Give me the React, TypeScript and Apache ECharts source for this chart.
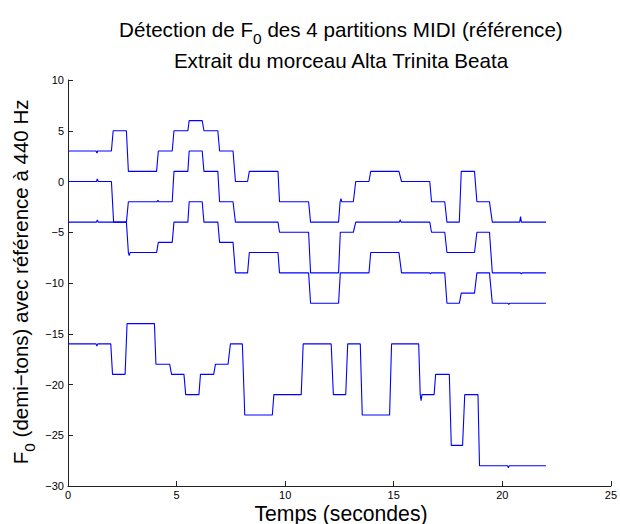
import React, { useEffect, useRef } from "react";
import * as echarts from "echarts";

// Each note: [start time (s), end time (s), pitch (semitones re 440 Hz)]
const sopranoNotes: number[][] = [
  [0, 2.0, 3], [2.08, 2.69, 5], [2.78, 4.08, 1], [4.16, 4.8, 3], [4.88, 5.52, 5],
  [5.58, 6.18, 6], [6.26, 6.9, 5], [6.98, 7.6, 3], [7.71, 8.27, 0], [8.35, 9.67, 1],
  [9.74, 11.08, -2], [11.17, 12.46, -4], [12.54, 13.14, -2], [13.25, 13.86, 0],
  [13.94, 15.24, 1], [15.36, 16.66, 0], [16.74, 17.35, -2], [17.45, 18.02, -4],
  [18.11, 18.72, 1], [18.83, 19.41, -2], [19.54, 22.01, -4],
];
const altoNotes: number[][] = [
  [0, 2.0, 0], [2.1, 2.69, -4], [2.78, 4.8, -2], [4.88, 5.52, 1], [5.58, 6.18, 3],
  [6.26, 6.9, 1], [6.98, 7.6, -2], [7.71, 9.67, -4], [9.74, 11.08, -5],
  [11.17, 12.46, -9], [12.54, 13.14, -5], [13.25, 16.66, -4], [16.74, 17.35, -5],
  [17.45, 18.72, -7], [18.83, 19.41, -5], [19.54, 22.01, -9],
];
const tenorNotes: number[][] = [
  [0, 2.69, -4], [2.78, 4.08, -7], [4.16, 4.8, -6], [4.88, 5.52, -4], [5.58, 6.18, -2],
  [6.26, 6.9, -4], [6.98, 7.6, -6], [7.71, 8.27, -9], [8.35, 9.67, -7],
  [9.74, 11.08, -9], [11.17, 12.46, -12], [12.54, 13.86, -9], [13.94, 15.24, -7],
  [15.36, 17.35, -9], [17.45, 18.02, -12], [18.11, 18.72, -11], [18.83, 19.41, -9],
  [19.54, 22.01, -12],
];
const bassNotes: number[][] = [
  [0, 1.97, -16], [2.05, 2.63, -19], [2.72, 3.98, -14], [4.05, 4.68, -18],
  [4.77, 5.34, -19], [5.42, 6.03, -21], [6.1, 6.71, -19], [6.79, 7.37, -18],
  [7.48, 8.03, -16], [8.14, 9.41, -23], [9.48, 10.74, -21], [10.83, 12.12, -16],
  [12.22, 12.79, -21], [12.88, 13.46, -16], [13.55, 14.81, -23], [14.9, 16.15, -16],
  [16.23, 16.86, -21], [16.93, 17.56, -19], [17.65, 18.17, -26], [18.27, 18.88, -21],
  [18.95, 22.01, -28],
];

// Small detection glitches: [time (s), value]
const sopranoGlitches: number[][] = [[1.33, 2.8], [12.57, -1.7], [20.84, -3.45]];
const altoGlitches: number[][] = [[1.35, 0.25], [4.14, -1.85], [15.3, -3.75], [20.87, -9.1]];
const tenorGlitches: number[][] = [[1.35, -3.8], [2.82, -7.3], [16.69, -9.1], [20.3, -12.1]];
const bassGlitches: number[][] = [[1.33, -16.2], [16.26, -21.6], [20.28, -28.2]];

const xTicks = { min: 0, max: 25, interval: 5 };
const yTicks = { min: -30, max: 10, interval: 5 };

const TITLE_A = "Détection de F";
const TITLE_SUB = "0";
const TITLE_B = " des 4 partitions MIDI (référence)";
const SUBTITLE = "Extrait du morceau Alta Trinita Beata";
const YNAME_A = "F";
const YNAME_SUB = "0";
const YNAME_B = " (demi\u2212tons) avec référence à 440 Hz";
const XNAME = "Temps (secondes)";

const FONT = "'Liberation Sans', Arial, Helvetica, sans-serif";

function buildLine(notes: number[][], glitches: number[][]): number[][] {
  const pts: number[][] = [];
  notes.forEach(([s, e, v]) => {
    pts.push([s, v]);
    pts.push([e, v]);
  });
  glitches.forEach(([t, v]) => {
    const n = notes.find(([s, e]) => t >= s && t <= e);
    const base = n ? n[2] : v;
    pts.push([t - 0.04, base]);
    pts.push([t, v]);
    pts.push([t + 0.04, base]);
  });
  pts.sort((a, b) => a[0] - b[0]);
  return pts;
}

function txt(x: number, y: number, text: string, size: number, opts: any = {}) {
  return {
    type: "text",
    x,
    y,
    rotation: opts.rotation || 0,
    silent: true,
    style: {
      text,
      fontSize: size,
      fontFamily: FONT,
      fill: "#000",
      textAlign: opts.align || "left",
      align: opts.align || "left",
      textVerticalAlign: "middle",
      verticalAlign: "middle",
    },
  };
}

export default function App() {
  const ref = useRef<HTMLDivElement>(null);
  useEffect(() => {
    if (!ref.current) return;
    const chart = echarts.init(ref.current, null, { renderer: "svg" });
    const fmt = (v: number) => String(v).replace("-", "\u2212");
    const lineSeries = (name: string, data: number[][]) => ({
      name,
      type: "line",
      data,
      showSymbol: false,
      symbol: "none",
      lineStyle: { color: "#0000ff", width: 1.1 },
      itemStyle: { color: "#0000ff" },
      z: 2,
    });
    chart.setOption({
      animation: false,
      backgroundColor: "#fff",
      grid: { left: 68, right: 7.3, top: 80, bottom: 38, containLabel: false },
      xAxis: {
        type: "value",
        min: xTicks.min,
        max: xTicks.max,
        interval: xTicks.interval,
        axisLine: { show: true, onZero: false, lineStyle: { color: "#222", width: 1 } },
        axisTick: { show: true, inside: true, length: 5, lineStyle: { color: "#222" } },
        axisLabel: { color: "#000", fontSize: 11, fontFamily: FONT, margin: 3, formatter: fmt },
        splitLine: { show: false },
      },
      yAxis: {
        type: "value",
        min: yTicks.min,
        max: yTicks.max,
        interval: yTicks.interval,
        axisLine: { show: true, onZero: false, lineStyle: { color: "#222", width: 1 } },
        axisTick: { show: true, inside: true, length: 5, lineStyle: { color: "#222" } },
        axisLabel: { color: "#000", fontSize: 11, fontFamily: FONT, margin: 4, formatter: fmt },
        splitLine: { show: false },
      },
      graphic: [
        txt(119.1, 29, TITLE_A, 20.6),
        txt(253.1, 38, TITLE_SUB, 15.5),
        txt(261.7, 29, TITLE_B, 20.6),
        txt(341, 60, SUBTITLE, 20.6, { align: "center" }),
        txt(341, 513, XNAME, 21.2, { align: "center" }),
        txt(20, 464.2, YNAME_A, 20.5, { rotation: Math.PI / 2 }),
        txt(29, 451.7, YNAME_SUB, 15.5, { rotation: Math.PI / 2 }),
        txt(20, 443.1, YNAME_B, 20.5, { rotation: Math.PI / 2 }),
      ],
      series: [
        lineSeries("Soprano", buildLine(sopranoNotes, sopranoGlitches)),
        lineSeries("Alto", buildLine(altoNotes, altoGlitches)),
        lineSeries("Ténor", buildLine(tenorNotes, tenorGlitches)),
        lineSeries("Basse", buildLine(bassNotes, bassGlitches)),
      ],
    });
    return () => chart.dispose();
  }, []);
  return (
    <div
      ref={ref}
      style={{ position: "fixed", left: 0, top: 0, width: 620, height: 524, background: "#fff" }}
    />
  );
}
